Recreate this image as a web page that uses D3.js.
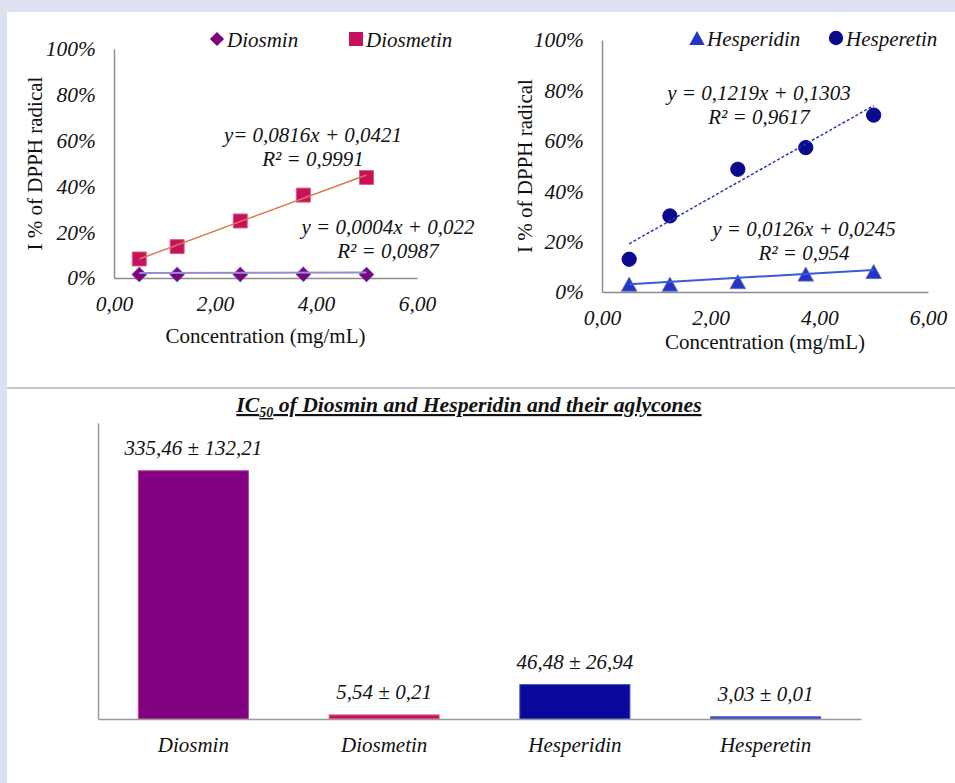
<!DOCTYPE html>
<html>
<head>
<meta charset="utf-8">
<script src="https://cdn.jsdelivr.net/npm/d3@7"></script>
<style>
  body { margin: 0; background: #dde0f0; }
  svg { display: block; }
  text { font-family: "Liberation Serif", "Times New Roman", serif; fill: #111; }
</style>
</head>
<body>
<svg id="chart" width="955" height="783"></svg>
<script>
// Concentration (mg/mL), same for every series
const concentrations = [0.5, 1.25, 2.5, 3.75, 5];

// I % of DPPH radical (as fractions)
const diosmin = [0.015, 0.015, 0.015, 0.016, 0.015];
const diosmetin = [0.083, 0.137, 0.249, 0.362, 0.439];
const hesperidin = [0.031, 0.031, 0.041, 0.071, 0.081];
const hesperetin = [0.130, 0.302, 0.487, 0.573, 0.702];

// Linear trend lines: [slope, intercept]
const diosminFit = [0.0004, 0.022];
const diosmetinFit = [0.0816, 0.0421];
const hesperidinFit = [0.0126, 0.0245];
const hesperetinFit = [0.1219, 0.1303];

const diosminEq = ["y = 0,0004x + 0,022", "R² = 0,0987"];
const diosmetinEq = ["y= 0,0816x + 0,0421", "R² = 0,9991"];
const hesperidinEq = ["y = 0,0126x + 0,0245", "R² = 0,954"];
const hesperetinEq = ["y = 0,1219x + 0,1303", "R² = 0,9617"];

const xTicks = [0, 2, 4, 6];
const yTicks = [0, 0.2, 0.4, 0.6, 0.8, 1];

// IC50 bars
const compounds = ["Diosmin", "Diosmetin", "Hesperidin", "Hesperetin"];
const ic50 = [335.46, 5.54, 46.48, 3.03];
const ic50Sd = [132.21, 0.21, 26.94, 0.01];

const comma = d3.formatLocale({ decimal: ",", thousands: ".", grouping: [3], currency: ["", ""] });
const fmtX = comma.format(".2f");
const fmtPct = d3.format(".0%");

const svg = d3.select("#chart");

svg.append("rect").attr("width", 955).attr("height", 783).attr("fill", "#dde0f0");
svg.append("rect").attr("x", 7).attr("y", 12).attr("width", 948).attr("height", 771).attr("fill", "#fff");
svg.append("line")
  .attr("x1", 7).attr("x2", 955).attr("y1", 388).attr("y2", 388)
  .attr("stroke", "#c6c6cc").attr("stroke-width", 2);

// box-centred triangle (Excel style marker)
const triangle = {
  draw(ctx, size) {
    const h = Math.sqrt(size);
    ctx.moveTo(0, -h / 2);
    ctx.lineTo(h * 0.55, h / 2);
    ctx.lineTo(-h * 0.55, h / 2);
    ctx.closePath();
  }
};

function panel(p) {
  const x = d3.scaleLinear().domain([0, 6]).range(p.xRange);
  const y = d3.scaleLinear().domain([0, 1]).range(p.yRange);
  const g = svg.append("g");

  const xAxis = g.append("g")
    .attr("transform", `translate(0,${p.yRange[0]})`)
    .call(d3.axisBottom(x).tickValues(xTicks).tickFormat(fmtX).tickSize(0).tickPadding(18));
  const yAxis = g.append("g")
    .attr("transform", `translate(${p.xRange[0]},0)`)
    .call(d3.axisLeft(y).tickValues(yTicks).tickFormat(fmtPct).tickSize(0).tickPadding(18));

  [xAxis, yAxis].forEach(a => {
    a.select(".domain").attr("stroke", "#8c8c8c").attr("stroke-width", 1.5);
    a.selectAll("text").style("font-size", "21.5px").style("font-style", "italic").attr("fill", "#1a1a1a");
  });

  g.append("text")
    .attr("x", (p.xRange[0] + p.xRange[1]) / 2)
    .attr("y", p.yRange[0] + p.titleGap)
    .attr("text-anchor", "middle")
    .style("font-size", "21px")
    .text("Concentration (mg/mL)");

  g.append("text")
    .attr("transform", `translate(${p.titleX},${(p.yRange[0] + p.yRange[1]) / 2}) rotate(-90)`)
    .attr("text-anchor", "middle")
    .style("font-size", "21px")
    .text("I % of DPPH radical");

  const line = d3.line().x(d => x(d[0])).y(d => y(d[1]));

  p.series.forEach(s => {
    g.append("g").selectAll("path")
      .data(concentrations.map((c, i) => [c, s.values[i]]))
      .join("path")
      .attr("transform", d => `translate(${x(d[0])},${y(d[1])}) rotate(${s.rotate || 0})`)
      .attr("d", d3.symbol(s.symbol, s.size))
      .attr("fill", s.color)
      .attr("stroke", s.edge)
      .attr("stroke-width", 1);
  });

  p.series.forEach(s => {
    const ends = [concentrations[0], concentrations[concentrations.length - 1]];
    g.append("path")
      .datum(ends.map(c => [c, s.fit[0] * c + s.fit[1]]))
      .attr("d", line)
      .attr("fill", "none")
      .attr("stroke", s.trend)
      .attr("stroke-width", s.trendWidth)
      .attr("stroke-dasharray", s.dash || null);

    const label = g.append("text")
      .attr("text-anchor", "middle")
      .style("font-size", "21px")
      .style("font-style", "italic");
    s.eq.forEach((t, i) => {
      label.append("tspan")
        .attr("x", s.eqPos[0])
        .attr("y", s.eqPos[1] + i * 24)
        .text(t);
    });
  });

  // legend
  p.series.forEach(s => {
    g.append("path")
      .attr("transform", `translate(${s.legend[0]},${p.legendY}) rotate(${s.rotate || 0})`)
      .attr("d", d3.symbol(s.symbol, s.size))
      .attr("fill", s.color);
    g.append("text")
      .attr("x", s.legend[0] + 10)
      .attr("y", p.legendY + 8)
      .style("font-size", "21px")
      .style("font-style", "italic")
      .text(s.name);
  });
}

panel({
  xRange: [114, 417],
  yRange: [278, 49],
  titleX: 42,
  titleGap: 65,
  legendY: 39,
  series: [
    { name: "Diosmin", values: diosmin, fit: diosminFit, eq: diosminEq, eqPos: [388, 234], legend: [217],
      symbol: d3.symbolSquare, size: 100, rotate: 45, color: "#800080", edge: "#5a3aa0",
      trend: "#9a8ad0", trendWidth: 2 },
    { name: "Diosmetin", values: diosmetin, fit: diosmetinFit, eq: diosmetinEq, eqPos: [313, 142], legend: [356],
      symbol: d3.symbolSquare, size: 196, color: "#c8105c", edge: "#d8607a",
      trend: "#d87a50", trendWidth: 1.5 }
  ]
});

panel({
  xRange: [602, 928],
  yRange: [292, 40],
  titleX: 532,
  titleGap: 57,
  legendY: 38,
  series: [
    { name: "Hesperidin", values: hesperidin, fit: hesperidinFit, eq: hesperidinEq, eqPos: [804, 236], legend: [697],
      symbol: triangle, size: 196, color: "#2434c8", edge: "#6a70b0",
      trend: "#3a5ad8", trendWidth: 2 },
    { name: "Hesperetin", values: hesperetin, fit: hesperetinFit, eq: hesperetinEq, eqPos: [759, 100], legend: [836],
      symbol: d3.symbolCircle, size: 160, color: "#0a0a8c", edge: "#0a0a8c",
      trend: "#2a38b8", trendWidth: 1.5, dash: "3,2" }
  ]
});

// IC50 bar chart
const barColors = ["#800080", "#c8105c", "#08089a", "#3848b8"];
const barEdges = ["#c04090", "#e0609a", "#4050c0", "#5060c8"];

const xb = d3.scaleBand().domain(compounds).range([98, 861]).paddingInner(0.423).paddingOuter(0.2115);
const yb = d3.scaleLinear().domain([0, 400]).range([719, 423]);

const gb = svg.append("g");

gb.append("g").selectAll("rect")
  .data(compounds)
  .join("rect")
  .attr("x", d => xb(d))
  .attr("y", (d, i) => yb(ic50[i]))
  .attr("width", xb.bandwidth())
  .attr("height", (d, i) => yb(0) - yb(ic50[i]))
  .attr("fill", (d, i) => barColors[i])
  .attr("stroke", (d, i) => barEdges[i])
  .attr("stroke-width", 1);

const bx = gb.append("g")
  .attr("transform", `translate(0,${yb(0)})`)
  .call(d3.axisBottom(xb).tickSize(0).tickPadding(18));
const by = gb.append("g")
  .attr("transform", `translate(${xb.range()[0]},0)`)
  .call(d3.axisLeft(yb).tickValues([]).tickSize(0));
[bx, by].forEach(a => a.select(".domain").attr("stroke", "#9a9a9a").attr("stroke-width", 1.5));
bx.selectAll("text").style("font-size", "21px").style("font-style", "italic").attr("fill", "#1a1a1a");

gb.append("g").selectAll("text")
  .data(compounds)
  .join("text")
  .attr("x", d => xb(d) + xb.bandwidth() / 2)
  .attr("y", (d, i) => yb(ic50[i]) - 16)
  .attr("text-anchor", "middle")
  .style("font-size", "21px")
  .style("font-style", "italic")
  .text((d, i) => `${fmtX(ic50[i])} ± ${fmtX(ic50Sd[i])}`);

const title = gb.append("text")
  .attr("x", 469)
  .attr("y", 412)
  .attr("text-anchor", "middle")
  .style("font-size", "21.7px")
  .style("font-style", "italic")
  .style("font-weight", "bold")
  .style("text-decoration", "underline");
title.append("tspan").text("IC");
title.append("tspan").attr("dy", 5).style("font-size", "14px").text("50");
title.append("tspan").attr("dy", -5).text(" of Diosmin and Hesperidin and their aglycones");
</script>
</body>
</html>
